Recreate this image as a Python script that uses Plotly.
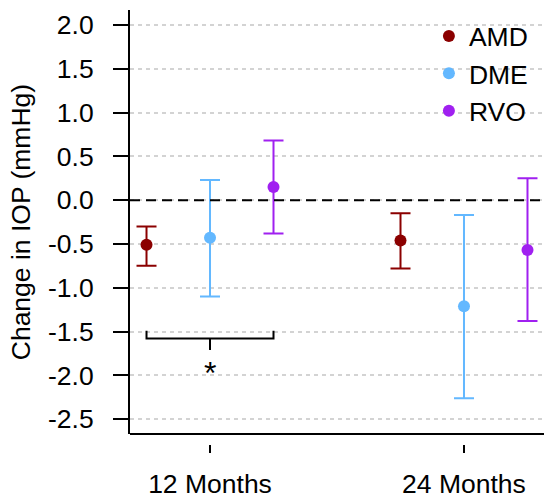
import plotly.graph_objects as go

# ---- data ----
timepoints = ["12 Months", "24 Months"]
groups = ["AMD", "DME", "RVO"]
amd_mean = [-0.51, -0.46]
amd_low = [-0.75, -0.78]
amd_high = [-0.30, -0.15]
dme_mean = [-0.43, -1.21]
dme_low = [-1.10, -2.26]
dme_high = [0.23, -0.17]
rvo_mean = [0.15, -0.57]
rvo_low = [-0.38, -1.38]
rvo_high = [0.68, 0.25]
y_ticks = [-2.5, -2.0, -1.5, -1.0, -0.5, 0.0, 0.5, 1.0, 1.5, 2.0]
y_tick_labels = ["-2.5", "-2.0", "-1.5", "-1.0", "-0.5", "0.0", "0.5", "1.0", "1.5", "2.0"]
sig_label = "*"

# ---- style ----
colors = {"AMD": "#8B0000", "DME": "#63B8FF", "RVO": "#A020F0"}
offsets = {"AMD": -0.25, "DME": 0.0, "RVO": 0.25}
FONT = "Liberation Sans, Arial, Helvetica, sans-serif"
FS = 26.5

series = {
    "AMD": (amd_mean, amd_low, amd_high),
    "DME": (dme_mean, dme_low, dme_high),
    "RVO": (rvo_mean, rvo_low, rvo_high),
}
xpos = list(range(1, len(timepoints) + 1))

fig = go.Figure()
for g in groups:
    m, lo, hi = series[g]
    fig.add_trace(go.Scatter(
        x=[p + offsets[g] for p in xpos],
        y=m,
        mode="markers",
        name=g,
        marker=dict(color=colors[g], size=12),
        error_y=dict(
            type="data", symmetric=False,
            array=[h - v for h, v in zip(hi, m)],
            arrayminus=[v - l for v, l in zip(m, lo)],
            color=colors[g], thickness=2, width=10,
        ),
    ))

# zero reference line
fig.add_shape(type="line", xref="x domain", yref="y", x0=0, x1=1, y0=0, y1=0,
              line=dict(color="black", width=2, dash="10px,6px"), layer="above")
# bottom axis line
fig.add_shape(type="line", xref="x domain", yref="y domain", x0=0, x1=1, y0=0, y1=0,
              line=dict(color="black", width=2))

# significance bracket between AMD and RVO at 12 months
bx0 = xpos[0] + offsets["AMD"]
bx1 = xpos[0] + offsets["RVO"]
bxm = xpos[0]
b_top, b_y, b_mid = -1.49, -1.58, -1.71
fig.add_shape(type="path",
              path=f"M {bx0} {b_top} L {bx0} {b_y} L {bx1} {b_y} L {bx1} {b_top}",
              line=dict(color="black", width=2))
fig.add_shape(type="line", x0=bxm, x1=bxm, y0=b_y, y1=b_mid,
              line=dict(color="black", width=2))
fig.add_annotation(x=bxm, y=-1.97, text=sig_label, showarrow=False,
                   font=dict(family=FONT, size=32, color="black"))

fig.update_layout(
    width=544, height=499,
    margin=dict(l=130, r=0, t=10, b=51),
    paper_bgcolor="white", plot_bgcolor="white",
    font=dict(family=FONT, size=FS, color="black"),
    showlegend=True,
    legend=dict(x=0.722, y=0.995, xanchor="left", yanchor="top",
                bgcolor="rgba(0,0,0,0)", font=dict(family=FONT, size=FS),
                itemsizing="constant", tracegroupgap=0),
    xaxis=dict(
        range=[0.685, 2.315],
        tickvals=xpos, ticktext=timepoints,
        showgrid=False, zeroline=False, showline=False,
        ticks="outside", ticklen=8, tickwidth=2, tickcolor="black",
        anchor="free", position=0,
        ticklabelstandoff=8,
        tickfont=dict(family=FONT, size=FS),
    ),
    yaxis=dict(
        domain=[0.0228, 1],
        range=[-2.67, 2.17],
        tickvals=y_ticks, ticktext=y_tick_labels,
        showgrid=True, gridcolor="#D3D3D3", gridwidth=1.5, griddash="4px,4px",
        zeroline=False, showline=True, linecolor="black", linewidth=2,
        ticks="outside", ticklen=15, tickwidth=2, tickcolor="black",
        ticklabelstandoff=14,
        tickfont=dict(family=FONT, size=FS),
        title=dict(text="Change in IOP (mmHg)", standoff=10,
                   font=dict(family=FONT, size=FS)),
    ),
)

fig.write_html("out.html")
